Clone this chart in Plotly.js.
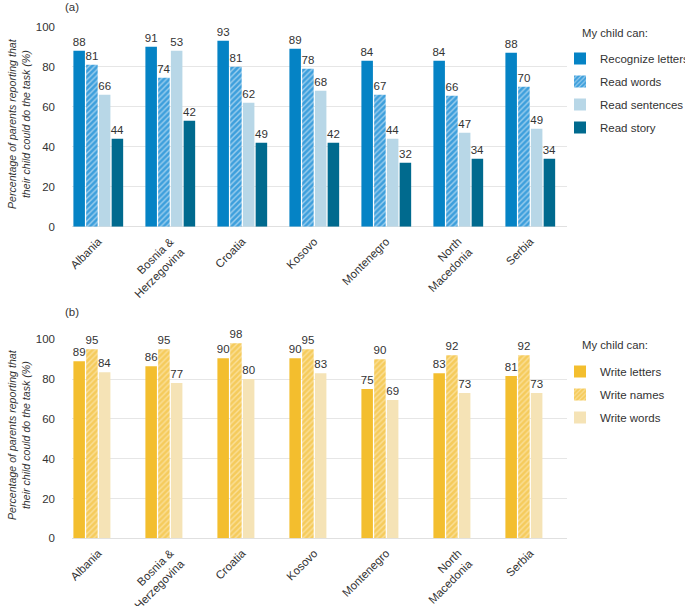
<!DOCTYPE html>
<html>
<head>
<meta charset="utf-8">
<script src="https://cdn.plot.ly/plotly-3.0.1.min.js"></script>
<style>html,body{margin:0;padding:0;background:#fff;}#chart{width:685px;height:606px;}</style>
</head>
<body>
<div id="chart"></div>
<script>
// ---- Data ----
const countries = ["Albania", "Bosnia &<br>Herzegovina", "Croatia", "Kosovo", "Montenegro", "North<br>Macedonia", "Serbia"];

// Panel (a): bar heights as drawn, and the value labels as printed
const recognizeLetters = [88, 90, 93, 89, 83, 83, 87];
const recognizeLettersLbl = ["88", "91", "93", "89", "84", "84", "88"];
const readWords = [81, 74.5, 80, 79, 66, 65.5, 70];
const readWordsLbl = ["81", "74", "81", "78", "67", "66", "70"];
const readSentences = [66, 88, 62, 68, 44, 47, 49];
const readSentencesLbl = ["66", "53", "62", "68", "44", "47", "49"];
const readStory = [44, 53, 42, 42, 32, 34, 34];
const readStoryLbl = ["44", "42", "49", "42", "32", "34", "34"];

// Panel (b)
const writeLetters = [89, 86.5, 90.5, 90.5, 75, 83, 81.5];
const writeLettersLbl = ["89", "86", "90", "90", "75", "83", "81"];
const writeNames = [95, 95, 98, 95, 90, 92, 92];
const writeNamesLbl = ["95", "95", "98", "95", "90", "92", "92"];
const writeWords = [83.5, 78, 80, 83, 69.5, 73, 73];
const writeWordsLbl = ["84", "77", "80", "83", "69", "73", "73"];

const legendTitle = "My child can:";
const yTitle = "Percentage of parents reporting that<br>their child could do the task (%)";

// ---- Styling ----
const FONT = "Liberation Sans, Arial, sans-serif";
const TXT = "#333333";
const FS = 11.5;
const W = 685, H = 606;
const slotW = 0.177, barW = 0.16;
const off = k => -2 * slotW + k * slotW + (slotW - barW) / 2;

function bar(name, y, lbl, k, color, pattern, xa, ya, legend) {
  const t = {
    type: "bar", name: name, x: countries, y: y, text: lbl,
    texttemplate: "%{text}", textposition: "outside", cliponaxis: false,
    constraintext: "none",
    textfont: {family: FONT, size: FS, color: TXT},
    width: barW, offset: off(k),
    marker: {color: color, line: {width: 0}},
    xaxis: xa, yaxis: ya, legend: legend, legendgroup: name,
    hoverinfo: "skip"
  };
  if (pattern) t.marker.pattern = pattern;
  return t;
}

const hatchBlue = {shape: "/", fillmode: "overlay", bgcolor: "#3d9fdc", fgcolor: "#ffffff", size: 4, solidity: 0.35};
const hatchYellow = {shape: "/", fillmode: "overlay", bgcolor: "#f5cb5c", fgcolor: "#fff4d6", size: 4, solidity: 0.35};

const data = [
  bar("Recognize letters", recognizeLetters, recognizeLettersLbl, 0, "#0583c5", null, "x", "y", "legend"),
  bar("Read words", readWords, readWordsLbl, 1, "#3d9fdc", hatchBlue, "x", "y", "legend"),
  bar("Read sentences", readSentences, readSentencesLbl, 2, "#b8d7e7", null, "x", "y", "legend"),
  bar("Read story", readStory, readStoryLbl, 3, "#006a8e", null, "x", "y", "legend"),
  bar("Write letters", writeLetters, writeLettersLbl, 0, "#f3be2e", null, "x2", "y2", "legend2"),
  bar("Write names", writeNames, writeNamesLbl, 1, "#f5cb5c", hatchYellow, "x2", "y2", "legend2"),
  bar("Write words", writeWords, writeWordsLbl, 2, "#f5e3b6", null, "x2", "y2", "legend2")
];

const px = v => v / W;
const py = v => 1 - v / H;

const xRange = [-0.365, 6.51];
function xaxis(anchor) {
  return {
    domain: [px(72), px(567)], anchor: anchor, type: "category", range: xRange,
    tickangle: -45, showgrid: false, zeroline: false, showline: false,
    ticks: "", ticklabelstandoff: 5,
    tickfont: {family: FONT, size: FS, color: TXT}, fixedrange: true
  };
}
function yaxis(anchor, dom) {
  return {
    domain: dom, anchor: anchor, range: [0, 100], tickvals: [0, 20, 40, 60, 80, 100],
    showgrid: true, gridcolor: "#e6e6e6", gridwidth: 1, zeroline: true, zerolinecolor: "#e0e0e0",
    zerolinewidth: 1.5, showline: false, ticks: "", ticklabelstandoff: 16,
    tickfont: {family: FONT, size: FS, color: TXT}, fixedrange: true
  };
}

function legendCfg(yTop) {
  return {
    x: px(560), y: py(yTop), xanchor: "left", yanchor: "top",
    bgcolor: "rgba(0,0,0,0)", borderwidth: 0,
    font: {family: FONT, size: FS, color: TXT},
    itemwidth: 30, tracegroupgap: 4, traceorder: "grouped",
    entrywidth: 75, entrywidthmode: "pixels"
  };
}

const annots = [
  {text: "(a)", x: px(63), y: py(7), xref: "paper", yref: "paper", xanchor: "left", yanchor: "middle", showarrow: false, font: {family: FONT, size: FS, color: TXT}},
  {text: "(b)", x: px(63), y: py(312), xref: "paper", yref: "paper", xanchor: "left", yanchor: "middle", showarrow: false, font: {family: FONT, size: FS, color: TXT}},
  {text: legendTitle, x: px(580), y: py(33.5), xref: "paper", yref: "paper", xanchor: "left", yanchor: "middle", showarrow: false, font: {family: FONT, size: 11.3, color: TXT}},
  {text: legendTitle, x: px(580), y: py(345), xref: "paper", yref: "paper", xanchor: "left", yanchor: "middle", showarrow: false, font: {family: FONT, size: 11.3, color: TXT}},
  {text: "<i>" + yTitle + "</i>", x: px(19), y: py(124), xref: "paper", yref: "paper", xanchor: "center", yanchor: "middle", textangle: -90, showarrow: false, font: {family: FONT, size: 10.6, color: TXT}},
  {text: "<i>" + yTitle + "</i>", x: px(19), y: py(435), xref: "paper", yref: "paper", xanchor: "center", yanchor: "middle", textangle: -90, showarrow: false, font: {family: FONT, size: 10.6, color: TXT}}
];

const layout = {
  width: W, height: H, margin: {l: 0, r: 0, t: 0, b: 0, autoexpand: false},
  paper_bgcolor: "#ffffff", plot_bgcolor: "#ffffff",
  barmode: "overlay", showlegend: true,
  xaxis: xaxis("y"), yaxis: yaxis("x", [py(226.7), py(26.7)]),
  xaxis2: xaxis("y2"), yaxis2: yaxis("x2", [py(538.3), py(339.3)]),
  legend: legendCfg(44),
  legend2: legendCfg(357),
  annotations: annots,
  font: {family: FONT, color: TXT}
};

Plotly.newPlot("chart", data, layout, {displayModeBar: false, staticPlot: true});
</script>
</body>
</html>
